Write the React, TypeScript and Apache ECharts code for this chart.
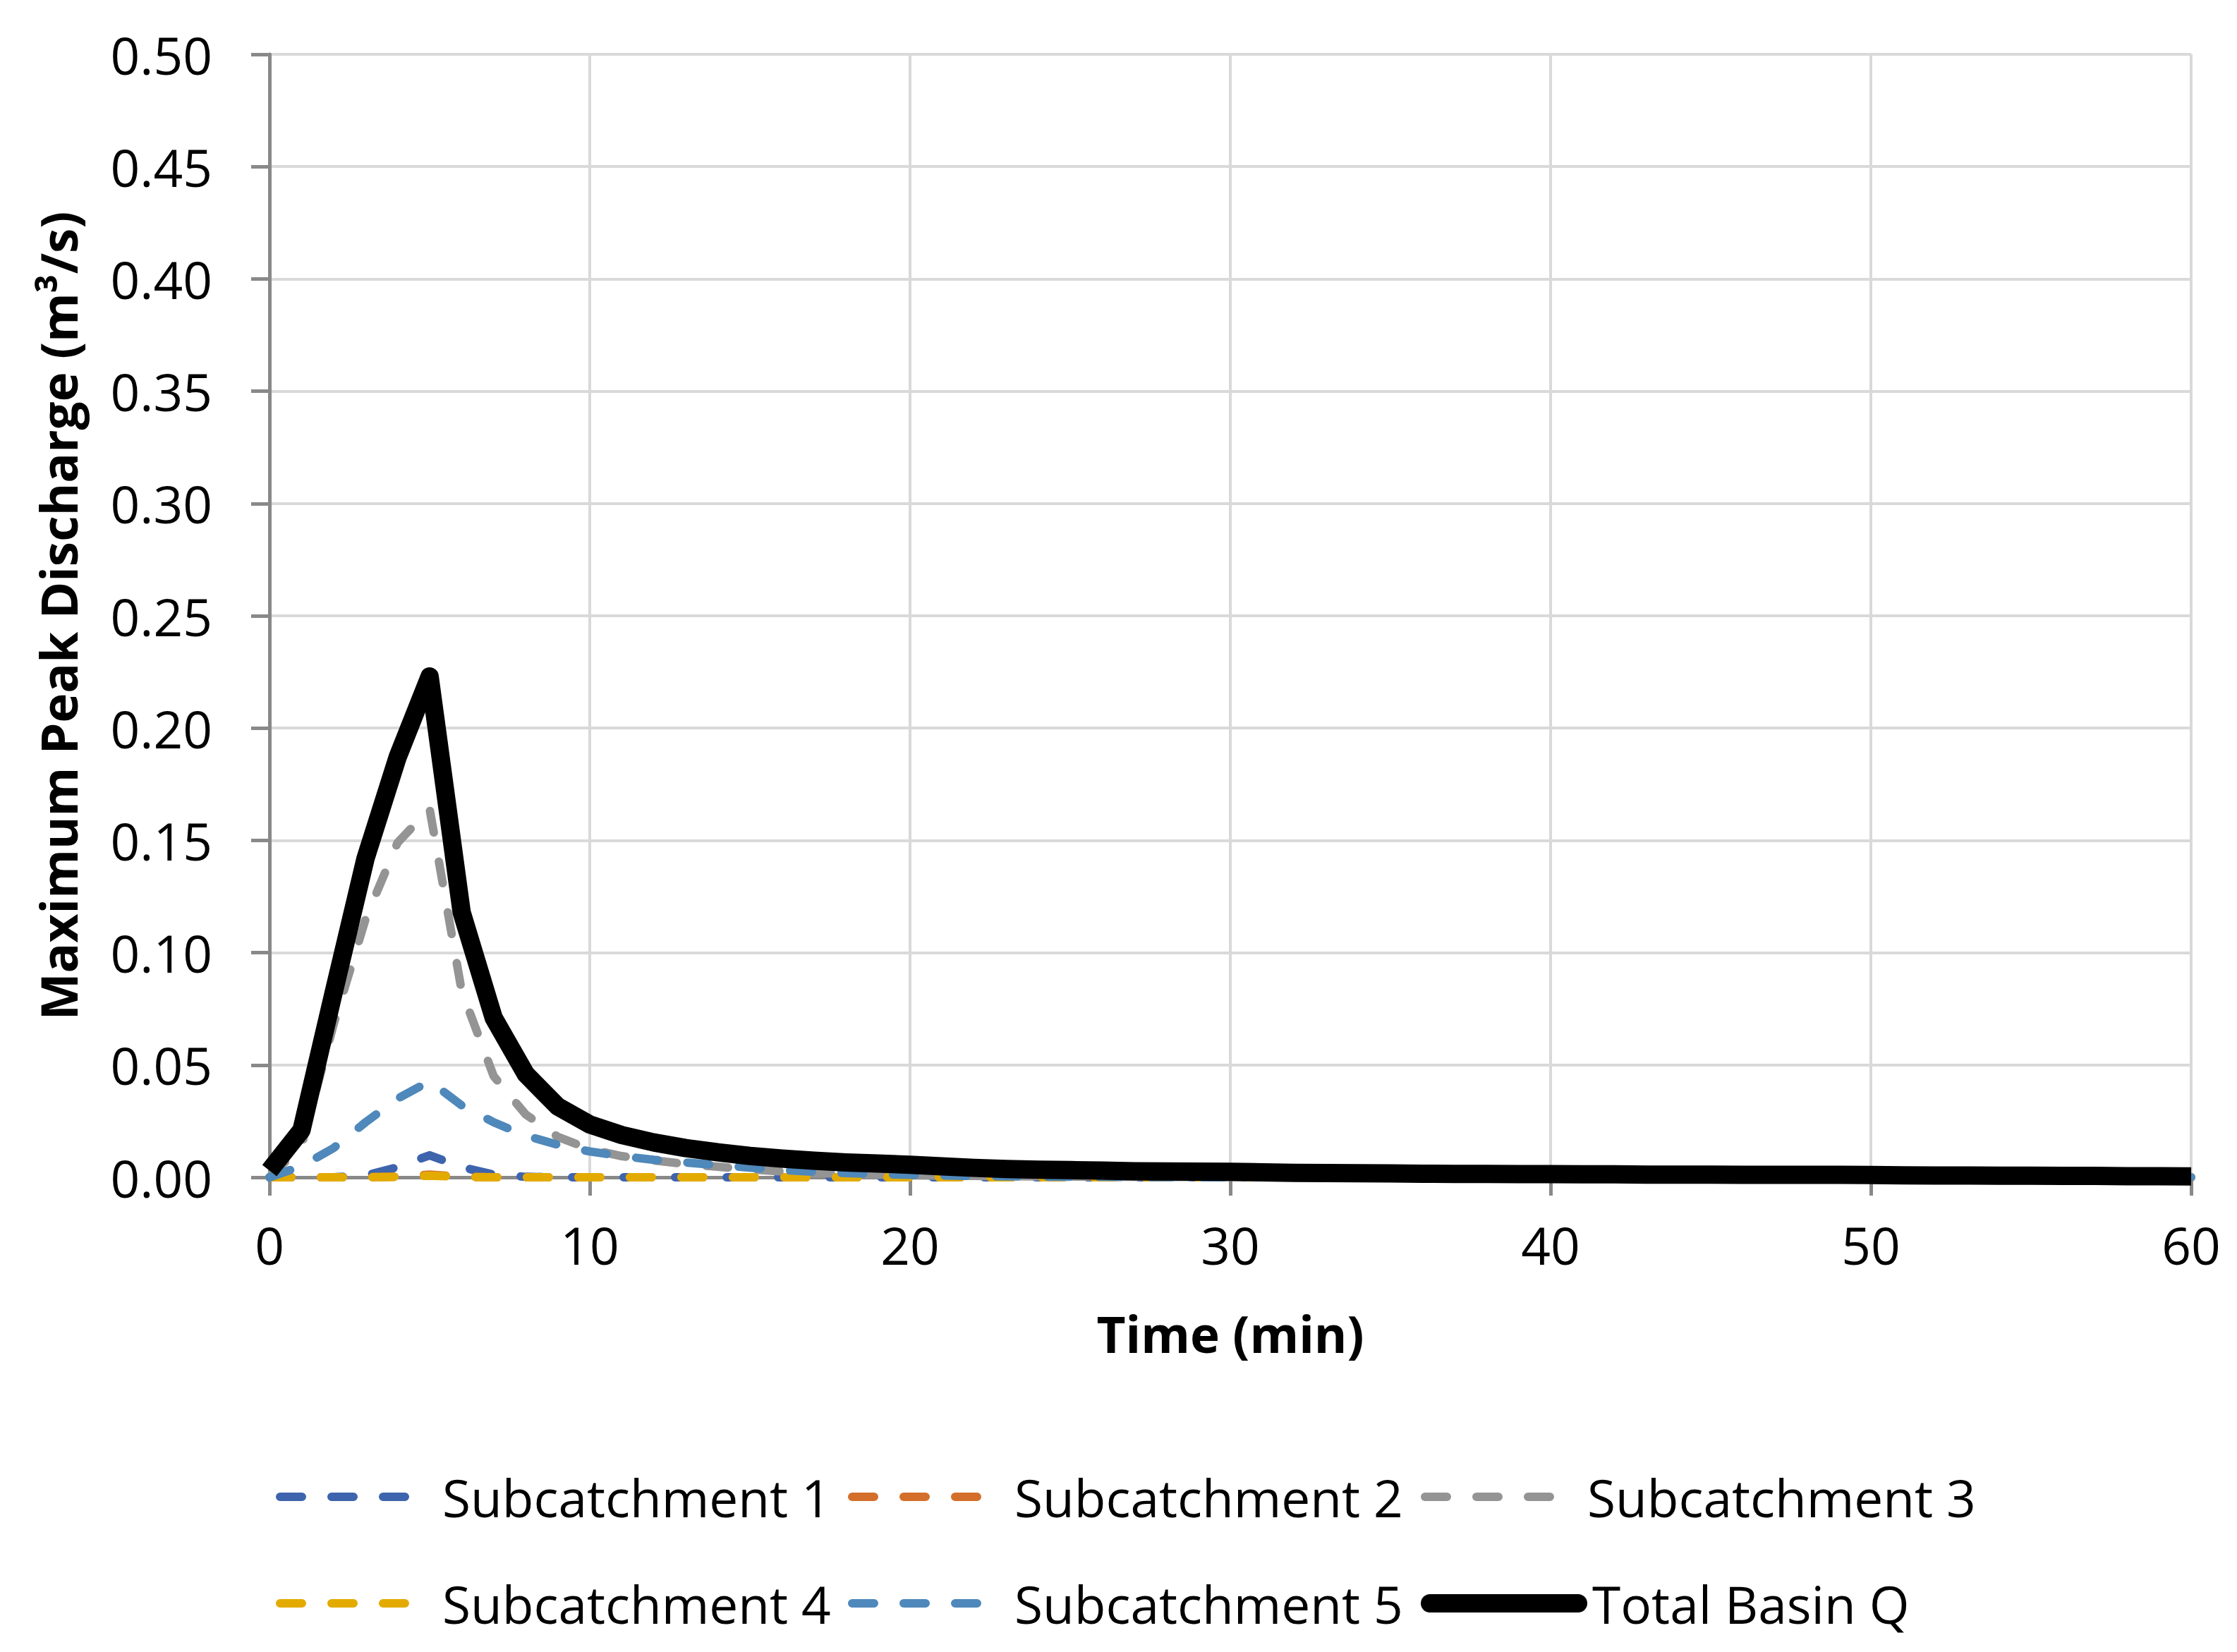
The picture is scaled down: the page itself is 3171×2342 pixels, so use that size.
import React, { useEffect, useRef } from "react";
import * as echarts from "echarts";

// Time (min)
const TIME = [
  0, 1, 2, 3, 4, 5, 6, 7, 8, 9,
  10, 11, 12, 13, 14, 15, 16, 17, 18, 19,
  20, 21, 22, 23, 24, 25, 26, 27, 28, 29,
  30, 31, 32, 33, 34, 35, 36, 37, 38, 39,
  40, 41, 42, 43, 44, 45, 46, 47, 48, 49,
  50, 51, 52, 53, 54, 55, 56, 57, 58, 59,
  60,
];

const SUB1 = [
  0, 0, 0, 0.0008, 0.0045, 0.0098, 0.0045, 0.0012, 0.0002, 0,
  0, 0, 0, 0, 0, 0, 0, 0, 0, 0,
  0, 0, 0, 0, 0, 0, 0, 0, 0, 0,
  0, 0, 0, 0, 0, 0, 0, 0, 0, 0,
  0, 0, 0, 0, 0, 0, 0, 0, 0, 0,
  0, 0, 0, 0, 0, 0, 0, 0, 0, 0,
  0,
];

const SUB2 = [
  0, 0, 0, 0, 0.0003, 0.0012, 0.0003, 0, 0, 0,
  0, 0, 0, 0, 0, 0, 0, 0, 0, 0,
  0, 0, 0, 0, 0, 0, 0, 0, 0, 0,
  0, 0, 0, 0, 0, 0, 0, 0, 0, 0,
  0, 0, 0, 0, 0, 0, 0, 0, 0, 0,
  0, 0, 0, 0, 0, 0, 0, 0, 0, 0,
  0,
];

const SUB3 = [
  0, 0.014, 0.068, 0.115, 0.149, 0.164, 0.083, 0.045, 0.028, 0.018,
  0.0125, 0.0094, 0.0075, 0.0059, 0.0047, 0.0035, 0.0026, 0.0019, 0.0015, 0.0012,
  0.0009, 0.0007, 0.0006, 0.0005, 0.0004, 0.0003, 0.0003, 0.0002, 0.0002, 0.0001,
  0.0001, 0.0001, 0.0001, 0, 0, 0, 0, 0, 0, 0,
  0, 0, 0, 0, 0, 0, 0, 0, 0, 0,
  0, 0, 0, 0, 0, 0, 0, 0, 0, 0,
  0,
];

const SUB4 = [
  0, 0, 0, 0, 0.0002, 0.0007, 0.0002, 0, 0, 0,
  0, 0, 0, 0, 0, 0, 0, 0, 0, 0,
  0, 0, 0, 0, 0, 0, 0, 0, 0, 0,
  0, 0, 0, 0, 0, 0, 0, 0, 0, 0,
  0, 0, 0, 0, 0, 0, 0, 0, 0, 0,
  0, 0, 0, 0, 0, 0, 0, 0, 0, 0,
  0,
];

const SUB5 = [
  0, 0.005, 0.013, 0.0245, 0.035, 0.0428, 0.032, 0.0245, 0.0185, 0.0145,
  0.0115, 0.0094, 0.0078, 0.0066, 0.0054, 0.0043, 0.0032, 0.0025, 0.0019, 0.0014,
  0.0011, 0.0008, 0.0006, 0.0004, 0.0003, 0.0002, 0.0002, 0.0001, 0.0001, 0,
  0, 0, 0, 0, 0, 0, 0, 0, 0, 0,
  0, 0, 0, 0, 0, 0, 0, 0, 0, 0,
  0, 0, 0, 0, 0, 0, 0, 0, 0, 0,
  0,
];

const TOTAL = [
  0.003, 0.021, 0.082, 0.142, 0.187, 0.223, 0.118, 0.071, 0.046, 0.0315,
  0.0235, 0.0188, 0.0155, 0.013, 0.0111, 0.0095, 0.0083, 0.0074, 0.0066, 0.0061,
  0.0056, 0.0049, 0.0042, 0.0037, 0.0034, 0.0032, 0.003, 0.0027, 0.0026, 0.0025,
  0.0024, 0.0022, 0.002, 0.0019, 0.0018, 0.0017, 0.0016, 0.0015, 0.0015, 0.0014,
  0.0014, 0.0013, 0.0013, 0.0012, 0.0012, 0.0012, 0.0011, 0.0011, 0.0011, 0.0011,
  0.001, 0.0009, 0.0008, 0.0008, 0.0007, 0.0007, 0.0006, 0.0006, 0.0005, 0.0005,
  0.0004,
];

const NAMES = [
  "Subcatchment 1",
  "Subcatchment 2",
  "Subcatchment 3",
  "Subcatchment 4",
  "Subcatchment 5",
  "Total Basin Q",
];
const VALUES = [SUB1, SUB2, SUB3, SUB4, SUB5, TOTAL];
const COLORS = ["#3D64AD", "#D46F2B", "#949494", "#E3AB00", "#4F88BB", "#000000"];

const X_TITLE = "Time (min)";
const Y_TITLE = "Maximum Peak Discharge (m³/s)";

const FONT = "'Open Sans', 'DejaVu Sans', sans-serif";
const DASH = [31, 42];

export default function App() {
  const ref = useRef<HTMLDivElement>(null);

  useEffect(() => {
    document.body.style.margin = "0";
    document.body.style.overflow = "hidden";
    const chart = echarts.init(ref.current!, null, { renderer: "svg" });

    const series = NAMES.map((name, i) => {
      const isTotal = i === NAMES.length - 1;
      return {
        name,
        type: "line",
        data: TIME.map((t, k) => [t, VALUES[i][k]]),
        symbol: "none",
        showSymbol: false,
        color: COLORS[i],
        lineStyle: isTotal
          ? { color: COLORS[i], width: 26, type: "solid", cap: "butt", join: "round" }
          : { color: COLORS[i], width: 12, type: DASH, cap: "round", join: "round" },
        emphasis: { disabled: true },
        z: 2,
      };
    });

    const legendLeft = [391, 1202, 2014];
    const legendTop = [2082, 2233];
    const legends = NAMES.map((name, i) => {
      const isTotal = i === NAMES.length - 1;
      return {
        data: [name],
        left: legendLeft[i % 3],
        top: legendTop[Math.floor(i / 3)],
        padding: 0,
        itemWidth: 210,
        itemHeight: 26,
        selectedMode: false,
        textStyle: {
          fontFamily: FONT,
          fontSize: 73,
          color: "#000",
          lineHeight: 80,
          padding: [0, 0, 0, 15],
        },
        lineStyle: isTotal
          ? { width: 26, type: "solid", cap: "round", color: COLORS[i] }
          : { width: 12, type: DASH, cap: "round", color: COLORS[i] },
        itemStyle: { opacity: 0 },
      };
    });

    const axisLineStyle = { color: "#898989", width: 5 };
    const splitLineStyle = { color: "#D9D9D9", width: 4 };

    chart.setOption({
      animation: false,
      backgroundColor: "#ffffff",
      grid: { left: 382, right: 65, top: 77, bottom: 673, containLabel: false },
      legend: legends,
      xAxis: {
        type: "value",
        min: 0,
        max: 60,
        interval: 10,
        name: X_TITLE,
        nameLocation: "middle",
        nameGap: 181,
        nameTextStyle: {
          fontFamily: FONT,
          fontSize: 71,
          fontWeight: "bold",
          color: "#000",
          lineHeight: 80,
        },
        axisLine: { show: true, onZero: false, lineStyle: axisLineStyle },
        axisTick: { show: true, length: 26, lineStyle: axisLineStyle },
        axisLabel: {
          fontFamily: FONT,
          fontSize: 73,
          color: "#000",
          margin: 55,
          lineHeight: 80,
        },
        splitLine: { show: true, lineStyle: splitLineStyle },
      },
      yAxis: {
        type: "value",
        min: 0,
        max: 0.5,
        interval: 0.05,
        name: Y_TITLE,
        nameLocation: "middle",
        nameGap: 260,
        nameTextStyle: {
          fontFamily: FONT,
          fontSize: 71,
          fontWeight: "bold",
          color: "#000",
          lineHeight: 80,
        },
        axisLine: { show: true, lineStyle: axisLineStyle },
        axisTick: { show: true, length: 26, lineStyle: axisLineStyle },
        axisLabel: {
          fontFamily: FONT,
          fontSize: 73,
          color: "#000",
          margin: 81,
          formatter: (v: number) => v.toFixed(2),
        },
        splitLine: { show: true, lineStyle: splitLineStyle },
      },
      series,
    });

    return () => chart.dispose();
  }, []);

  return <div ref={ref} style={{ width: 3171, height: 2342 }} />;
}
